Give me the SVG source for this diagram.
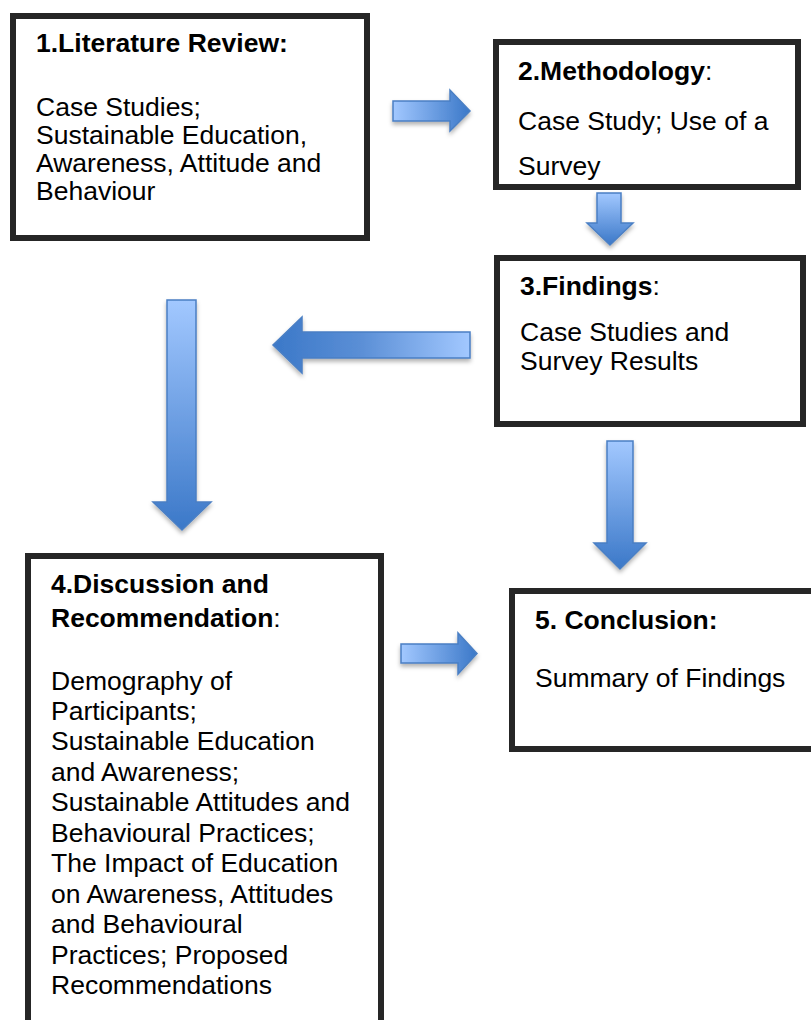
<svg xmlns="http://www.w3.org/2000/svg" width="811" height="1020" viewBox="0 0 811 1020">
<defs>
<linearGradient id="gR" x1="0" y1="0" x2="1" y2="0"><stop offset="0" stop-color="#a2c8ff"/><stop offset="1" stop-color="#3b78c8"/></linearGradient>
<linearGradient id="gL" x1="1" y1="0" x2="0" y2="0"><stop offset="0" stop-color="#a2c8ff"/><stop offset="0.55" stop-color="#5b8fd6"/><stop offset="1" stop-color="#3b78c8"/></linearGradient>
<linearGradient id="gD" x1="0" y1="0" x2="0" y2="1"><stop offset="0" stop-color="#a2c8ff"/><stop offset="1" stop-color="#3b78c8"/></linearGradient>
<filter id="sh" x="-20%" y="-20%" width="140%" height="150%"><feDropShadow dx="0" dy="3" stdDeviation="2" flood-color="#000" flood-opacity="0.3"/></filter>
</defs>
<style>
.box{fill:#fff;stroke:#262626;stroke-width:6}
.t{font-family:"Liberation Sans",Arial,sans-serif;font-size:26.5px;fill:#000}
.b{font-weight:bold}
.arr{stroke:#4a7fc4;stroke-width:1.5;filter:url(#sh)}
</style>
<rect width="811" height="1020" fill="#fff"/>
<g id="connectors">
<polygon class="arr" fill="url(#gR)" points="393,101 450,101 450,90 470,111 450,131 450,121 393,121"/>
<polygon class="arr" fill="url(#gD)" points="597,193 621,193 621,223 633,223 610,245 587,223 597,223"/>
<polygon class="arr" fill="url(#gL)" points="470,332 302,332 302,317 273,345 302,373 302,358 470,358"/>
<polygon class="arr" fill="url(#gD)" points="167,300 196,300 196,502 211,502 182,530 153,502 167,502"/>
<polygon class="arr" fill="url(#gR)" points="401,644 458,644 458,633 477,653.5 458,674 458,663 401,663"/>
<polygon class="arr" fill="url(#gD)" points="607,441 633,441 633,543 646,543 620,569 594,543 607,543"/>
</g>
<g id="node1">
<rect class="box" x="13" y="16" width="354" height="222"/>
<text class="t b" x="36" y="52">1.Literature Review:</text>
<text class="t" x="36" y="116">Case Studies;</text>
<text class="t" x="36" y="144">Sustainable Education,</text>
<text class="t" x="36" y="172">Awareness, Attitude and</text>
<text class="t" x="36" y="200">Behaviour</text>
</g>
<g id="node2">
<rect class="box" x="496" y="42" width="302" height="145"/>
<text class="t" x="518" y="80"><tspan class="b">2.Methodology</tspan>:</text>
<text class="t" x="518" y="130">Case Study; Use of a</text>
<text class="t" x="518" y="175">Survey</text>
</g>
<g id="node3">
<rect class="box" x="497" y="258" width="306" height="166"/>
<text class="t" x="520" y="295"><tspan class="b">3.Findings</tspan>:</text>
<text class="t" x="520" y="341">Case Studies and</text>
<text class="t" x="520" y="370">Survey Results</text>
</g>
<g id="node4">
<rect class="box" x="28" y="556" width="353" height="490"/>
<text class="t b" x="51" y="593">4.Discussion and</text>
<text class="t" x="51" y="627"><tspan class="b">Recommendation</tspan>:</text>
<text class="t" x="51" y="690">Demography of</text>
<text class="t" x="51" y="720">Participants;</text>
<text class="t" x="51" y="750">Sustainable Education</text>
<text class="t" x="51" y="781">and Awareness;</text>
<text class="t" x="51" y="811">Sustainable Attitudes and</text>
<text class="t" x="51" y="842">Behavioural Practices;</text>
<text class="t" x="51" y="872">The Impact of Education</text>
<text class="t" x="51" y="903">on Awareness, Attitudes</text>
<text class="t" x="51" y="933">and Behavioural</text>
<text class="t" x="51" y="964">Practices; Proposed</text>
<text class="t" x="51" y="994">Recommendations</text>
</g>
<g id="node5">
<rect class="box" x="512" y="591" width="320" height="158"/>
<text class="t b" x="535" y="629">5. Conclusion:</text>
<text class="t" x="535" y="687">Summary of Findings</text>
</g>
</svg>
